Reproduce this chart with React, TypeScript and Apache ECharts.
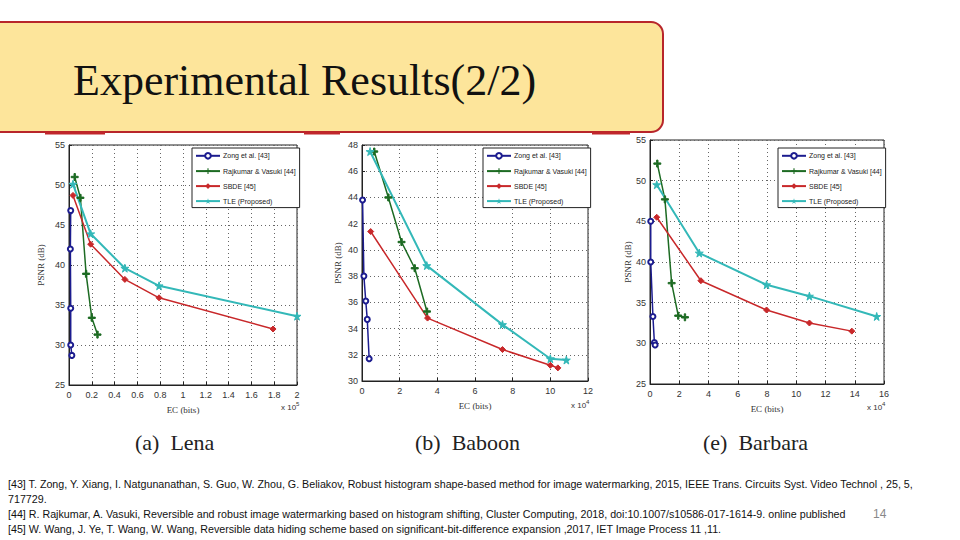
import React, { useEffect, useRef } from "react";
import * as echarts from "echarts";

const seriesNames = ["Zong et al. [43]", "Rajkumar & Vasuki [44]", "SBDE [45]", "TLE (Proposed)"];
const seriesColors = ["#1c1c8f", "#1d6b23", "#c8282a", "#33b8b8"];

// Lena (x in 10^5 bits)
const lenaZong = [[0.015, 46.8], [0.012, 42], [0.015, 34.6], [0.015, 30], [0.025, 28.7]];
const lenaRaj = [[0.05, 51.0], [0.1, 48.4], [0.15, 38.9], [0.2, 33.4], [0.25, 31.3]];
const lenaSbde = [[0.035, 48.7], [0.19, 42.6], [0.49, 38.2], [0.79, 35.9], [1.79, 32.0]];
const lenaTle = [[0.035, 50.1], [0.19, 43.9], [0.49, 39.6], [0.79, 37.4], [2.0, 33.6]];

// Baboon (x in 10^4 bits)
const babZong = [[0.03, 43.8], [0.1, 38.0], [0.2, 36.1], [0.28, 34.7], [0.38, 31.7]];
const babRaj = [[0.65, 47.5], [1.4, 44.0], [2.1, 40.6], [2.8, 38.6], [3.45, 35.3]];
const babSbde = [[0.46, 41.4], [3.48, 34.8], [7.46, 32.4], [10.0, 31.2], [10.4, 31.0]];
const babTle = [[0.43, 47.5], [3.44, 38.8], [7.46, 34.3], [10.0, 31.7], [10.85, 31.6]];

// Barbara (x in 10^4 bits)
const barZong = [[0.05, 45.0], [0.05, 40.0], [0.2, 33.3], [0.3, 30.1], [0.35, 29.8]];
const barRaj = [[0.5, 52.1], [1.02, 47.7], [1.48, 37.4], [1.93, 33.4], [2.39, 33.2]];
const barSbde = [[0.46, 45.5], [3.48, 37.7], [7.97, 34.1], [10.9, 32.5], [13.8, 31.5]];
const barTle = [[0.46, 49.5], [3.37, 41.1], [7.97, 37.2], [10.9, 35.8], [15.5, 33.3]];

const xRanges = [[0, 2, 0.2], [0, 12, 2], [0, 16, 2]];
const yRanges = [[25, 55, 5], [30, 48, 2], [25, 55, 5]];
const captions = ["(a)  Lena", "(b)  Baboon", "(e)  Barbara"];
const expLabels = ["5", "4", "4"];

const refLines = [
  "[43] T. Zong, Y. Xiang, I. Natgunanathan, S. Guo, W. Zhou, G. Beliakov, Robust histogram shape-based method for image watermarking, 2015, IEEE Trans. Circuits Syst. Video Technol , 25, 5,",
  "717729.",
  "[44] R. Rajkumar, A. Vasuki, Reversible and robust image watermarking based on histogram shifting, Cluster Computing, 2018, doi:10.1007/s10586-017-1614-9. online published",
  "[45] W. Wang, J. Ye, T. Wang, W. Wang, Reversible data hiding scheme based on significant-bit-difference expansion ,2017, IET Image Process 11 ,11.",
];

const STAR = "path://M50,0L61,35L98,35L68,57L79,91L50,70L21,91L32,57L2,35L39,35Z";
const PLUS = "path://M4,0H6V4H10V6H6V10H4V6H0V4H4Z";

export default function App() {
  const ref = useRef<HTMLDivElement>(null);
  useEffect(() => {
    if (!ref.current) return;
    const chart = echarts.init(ref.current, null, { renderer: "svg" });
    const grids = [
      { left: 69, top: 145, width: 228, height: 240 },
      { left: 362, top: 145, width: 226, height: 236 },
      { left: 650, top: 140, width: 234, height: 244 },
    ];
    const yNameGaps = [24, 20, 17];
    const data = [
      [lenaZong, lenaRaj, lenaSbde, lenaTle],
      [babZong, babRaj, babSbde, babTle],
      [barZong, barRaj, barSbde, barTle],
    ];
    const symbols = ["emptyCircle", PLUS, "diamond", STAR];
    const symbolSizes = [5, 7, 6, 8];
    const lineWidths = [1.5, 1.5, 1.5, 2];
    const tickFont = { fontSize: 9, color: "#333", fontFamily: "'Liberation Sans', sans-serif" };
    const series: any[] = [];
    data.forEach((set, gi) => {
      set.forEach((pts, si) => {
        series.push({
          type: "line",
          name: seriesNames[si],
          xAxisIndex: gi,
          yAxisIndex: gi,
          data: pts,
          symbol: symbols[si],
          symbolSize: symbolSizes[si],
          showAllSymbol: true,
          lineStyle: { color: seriesColors[si], width: lineWidths[si] },
          itemStyle: { color: seriesColors[si], borderColor: seriesColors[si] },
          z: 3,
        });
      });
    });
    const legendPos = [
      { left: 192, top: 148 },
      { left: 483, top: 148 },
      { left: 778, top: 148 },
    ];
    const graphics: any[] = [
      {
        type: "rect",
        shape: { x: -20, y: 22, width: 683, height: 110, r: 12 },
        style: { fill: "#fde59b", stroke: "#b8262b", lineWidth: 2 },
      },
      {
        type: "text",
        x: 73,
        y: 80,
        style: {
          text: "Experimental Results(2/2)",
          font: "44px 'Liberation Serif', serif",
          fill: "#111",
          align: "left",
          verticalAlign: "middle",
        },
      },
      { type: "line", shape: { x1: 45, y1: 133, x2: 105, y2: 133 }, style: { stroke: "#c0262b", lineWidth: 3 } },
      { type: "line", shape: { x1: 304, y1: 133, x2: 340, y2: 133 }, style: { stroke: "#c0262b", lineWidth: 3 } },
      { type: "line", shape: { x1: 592, y1: 133, x2: 630, y2: 133 }, style: { stroke: "#c0262b", lineWidth: 3 } },
    ];
    const capX = [135, 415, 703];
    captions.forEach((c, i) => {
      graphics.push({
        type: "text",
        x: capX[i],
        y: 442,
        style: { text: c, font: "22px 'Liberation Serif', serif", fill: "#222", verticalAlign: "middle" },
      });
    });
    const expX = [281, 571, 867];
    const expY = [407, 405, 407];
    expLabels.forEach((e, i) => {
      graphics.push({
        type: "text",
        x: expX[i],
        y: expY[i],
        style: {
          text: "x 10{s|" + e + "}",
          font: "8px 'Liberation Sans', sans-serif",
          fill: "#333",
          verticalAlign: "middle",
          rich: { s: { fontSize: 6, verticalAlign: "top", padding: [0, 0, 6, 0] } },
        },
      });
    });
    refLines.forEach((t, i) => {
      graphics.push({
        type: "text",
        x: 8,
        y: 484 + i * 15,
        style: {
          text: t,
          font: "10.7px 'Liberation Sans', sans-serif",
          fill: "#111",
          verticalAlign: "middle",
        },
      });
    });
    graphics.push({
      type: "text",
      x: 873,
      y: 514,
      style: { text: "14", font: "12px 'Liberation Sans', sans-serif", fill: "#888", verticalAlign: "middle" },
    });

    chart.setOption({
      animation: false,
      backgroundColor: "#fff",
      grid: grids.map((g) => ({ ...g, show: true, borderColor: "#222", borderWidth: 1, backgroundColor: "#fff", containLabel: false })),
      xAxis: xRanges.map((r, i) => ({
        type: "value",
        gridIndex: i,
        min: r[0],
        max: r[1],
        interval: r[2],
        name: "EC (bits)",
        nameLocation: "middle",
        nameGap: 20,
        nameTextStyle: { fontSize: 9, color: "#333", fontFamily: "'Liberation Serif', serif" },
        axisLine: { show: true, lineStyle: { color: "#222", width: 1 } },
        axisTick: { show: true, inside: true, length: 3, lineStyle: { color: "#222" } },
        axisLabel: { ...tickFont, margin: 5 },
        splitLine: { show: true, lineStyle: { color: "#666", type: [1, 3], width: 1 } },
      })),
      yAxis: yRanges.map((r, i) => ({
        type: "value",
        gridIndex: i,
        min: r[0],
        max: r[1],
        interval: r[2],
        name: "PSNR (dB)",
        nameLocation: "middle",
        nameGap: yNameGaps[i],
        nameRotate: 90,
        nameTextStyle: { fontSize: 9, color: "#333", fontFamily: "'Liberation Serif', serif" },
        axisLine: { show: true, lineStyle: { color: "#222", width: 1 } },
        axisTick: { show: true, inside: true, length: 3, lineStyle: { color: "#222" } },
        axisLabel: { ...tickFont, margin: 4 },
        splitLine: { show: true, lineStyle: { color: "#666", type: [1, 3], width: 1 } },
      })),
      legend: legendPos.map((p) => ({
        ...p,
        orient: "vertical",
        data: seriesNames,
        backgroundColor: "#fff",
        borderColor: "#222",
        borderWidth: 1,
        borderRadius: 0,
        padding: [4, 4, 3, 3],
        itemGap: 8,
        itemWidth: 24,
        itemHeight: 7,
        selectedMode: false,
        textStyle: { fontSize: 7, color: "#222", fontFamily: "'Liberation Sans', sans-serif", padding: [0, 0, 0, -2] },
      })),
      series,
      graphic: graphics,
    });
    return () => chart.dispose();
  }, []);
  return <div ref={ref} style={{ position: "absolute", left: 0, top: 0, width: 960, height: 540 }} />;
}
